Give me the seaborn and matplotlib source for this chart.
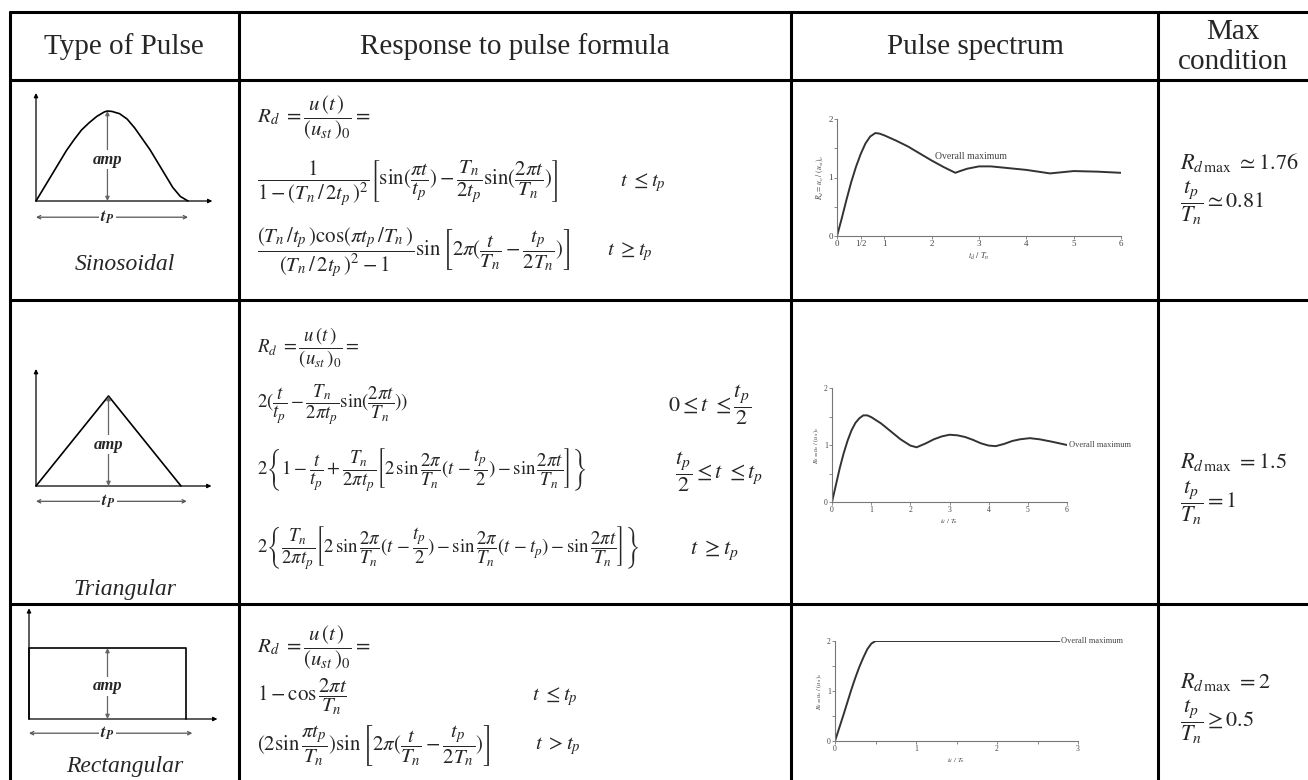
import numpy as np
import pandas as pd
import matplotlib
matplotlib.use('Agg')
import matplotlib.pyplot as plt
import seaborn as sns

sns.set_theme(style="white")
plt.rcParams['font.family'] = ['Liberation Serif', 'DejaVu Serif']
plt.rcParams['mathtext.fontset'] = 'stix'

# ------------------------------------------------------------
# data
# ------------------------------------------------------------
headers = ["Type of Pulse", "Response to pulse formula", "Pulse spectrum", "Max\ncondition"]
pulse_names = ["Sinosoidal", "Triangular", "Rectangular"]

# pulse shapes : time / t_p  vs  amplitude / amp
sine_t = [0, 0.05, 0.1, 0.15, 0.2, 0.25, 0.3, 0.35, 0.4, 0.45, 0.47, 0.5, 0.55,
          0.6, 0.65, 0.7, 0.75, 0.8, 0.85, 0.9, 0.95, 1.0]
sine_a = [0, 0.14, 0.28, 0.42, 0.56, 0.68, 0.79, 0.87, 0.94, 0.99, 1.0, 0.995, 0.97,
          0.91, 0.81, 0.69, 0.57, 0.43, 0.29, 0.15, 0.05, 0]
tri_t = [0, 0.5, 1.0]
tri_a = [0, 1.0, 0]
rect_t = [0, 0, 1.0, 1.0]
rect_a = [0, 1.0, 1.0, 0]

# pulse spectra : t_d / T_n  vs  R_d
sine_td = [0, 0.1, 0.2, 0.3, 0.4, 0.5, 0.6, 0.7, 0.81, 0.9, 1.0, 1.25, 1.5, 1.75, 2.0,
           2.25, 2.5, 2.6, 2.75, 3.0, 3.25, 3.5, 3.75, 4.0, 4.25, 4.5, 4.75, 5.0, 5.5, 6.0]
sine_rd = [0, 0.3, 0.62, 0.92, 1.18, 1.4, 1.58, 1.7, 1.76, 1.75, 1.72, 1.63, 1.53, 1.41, 1.29,
           1.18, 1.08, 1.11, 1.15, 1.19, 1.19, 1.17, 1.15, 1.13, 1.10, 1.07, 1.09, 1.11, 1.10, 1.08]
tri_td = [0, 0.1, 0.2, 0.3, 0.4, 0.5, 0.6, 0.7, 0.8, 0.9, 1.0, 1.25, 1.5, 1.75, 2.0, 2.16,
          2.4, 2.6, 2.8, 3.0, 3.2, 3.4, 3.6, 3.8, 4.0, 4.18, 4.4, 4.6, 4.8, 5.05, 5.3, 5.6, 6.0]
tri_rd = [0, 0.3, 0.6, 0.86, 1.08, 1.26, 1.39, 1.47, 1.52, 1.52, 1.49, 1.38, 1.24, 1.10, 0.99, 0.96,
          1.03, 1.10, 1.15, 1.18, 1.17, 1.14, 1.09, 1.03, 0.99, 0.98, 1.02, 1.07, 1.10, 1.12, 1.10, 1.06, 1.0]
rect_td = [0, 0.05, 0.1, 0.15, 0.2, 0.25, 0.3, 0.35, 0.4, 0.45, 0.5, 2.77]
rect_rd = [0, 0.25, 0.5, 0.76, 1.02, 1.26, 1.48, 1.67, 1.84, 1.95, 2.0, 2.0]

# formulas
rd_def = r"$R_d\ = \dfrac{u\,(t\,)}{(u_{st}\,)_0} =$"
sine_formulas = [
    rd_def,
    r"$\dfrac{1}{1-(T_n\,/\,2t_p\,)^2}\left[\sin(\dfrac{\pi t}{t_p}) - \dfrac{T_n}{2t_p}\sin(\dfrac{2\pi t}{T_n})\right]$",
    r"$\dfrac{(T_n\,/t_p\,)\cos(\pi t_p\,/T_n\,)}{(T_n\,/\,2t_p\,)^2-1}\sin\left[2\pi(\dfrac{t}{T_n}-\dfrac{t_p}{2T_n})\right]$",
]
sine_conds = [r"$t\ \leq t_p$", r"$t\ \geq t_p$"]
tri_formulas = [
    rd_def,
    r"$2(\dfrac{t}{t_p} - \dfrac{T_n}{2\pi t_p}\sin(\dfrac{2\pi t}{T_n}))$",
    r"$2\left\{1-\dfrac{t}{t_p}+\dfrac{T_n}{2\pi t_p}\left[2\,\sin\dfrac{2\pi}{T_n}(t\,-\dfrac{t_p}{2})-\sin\dfrac{2\pi t}{T_n}\right]\right\}$",
    r"$2\left\{\dfrac{T_n}{2\pi t_p}\left[2\,\sin\dfrac{2\pi}{T_n}(t\,-\dfrac{t_p}{2})-\sin\dfrac{2\pi}{T_n}(t\,-t_p)-\sin\dfrac{2\pi t}{T_n}\right]\right\}$",
]
tri_conds = [r"$0\leq t\ \leq\dfrac{t_p}{2}$", r"$\dfrac{t_p}{2}\leq t\ \leq t_p$", r"$t\ \geq t_p$"]
rect_formulas = [
    rd_def,
    r"$1-\cos\dfrac{2\pi t}{T_n}$",
    r"$(2\sin\dfrac{\pi t_p}{T_n})\sin\left[2\pi(\dfrac{t}{T_n}-\dfrac{t_p}{2T_n})\right]$",
]
rect_conds = [r"$t\ \leq t_p$", r"$t\ > t_p$"]

max_cond = [
    (r"$R_{d\,\mathrm{max}}\ \simeq 1.76$", r"$\dfrac{t_p}{T_n}\simeq 0.81$"),
    (r"$R_{d\,\mathrm{max}}\ = 1.5$", r"$\dfrac{t_p}{T_n} = 1$"),
    (r"$R_{d\,\mathrm{max}}\ = 2$", r"$\dfrac{t_p}{T_n}\geq 0.5$"),
]

# ------------------------------------------------------------
# figure / table frame (pixel coordinates)
# ------------------------------------------------------------
W, H = 1308, 780
fig = plt.figure(figsize=(W / 100, H / 100), dpi=100)
base = fig.add_axes([0, 0, 1, 1])
base.set_xlim(0, W)
base.set_ylim(H, 0)
base.axis('off')

col_x = [10, 239, 791, 1158]
row_y = [12, 80, 300, 604]
for y in row_y:
    base.plot([col_x[0] - 1, W], [y, y], color='black', lw=2.2, solid_capstyle='butt')
for x in col_x:
    base.plot([x, x], [row_y[0] - 1, H], color='black', lw=2.2, solid_capstyle='butt')

head_cx = [124, 515, 975, 1233]
for cx, txt in zip(head_cx, headers):
    base.text(cx, 47, txt, ha='center', va='center', fontsize=21,
              linespacing=1.2, multialignment='center')


def px_axes(x0, y0, x1, y1):
    """pixel box (left, top, right, bottom) -> axes"""
    return fig.add_axes([x0 / W, 1 - y1 / H, (x1 - x0) / W, (y1 - y0) / H])


# ------------------------------------------------------------
# pulse shape sketches
# ------------------------------------------------------------
def pulse(ox, oy, sx, sy, t, a, ytop, xend, tp_end, tp_y, amp_x):
    xr = (-0.06, 1.32)
    yr = (-0.4, ytop + 0.05)
    ax = px_axes(ox + xr[0] * sx, oy - yr[1] * sy, ox + xr[1] * sx, oy - yr[0] * sy)
    ax.set_xlim(*xr)
    ax.set_ylim(*yr)
    ax.axis('off')
    sns.lineplot(x=t, y=a, ax=ax, color='black', lw=1.2, sort=False, estimator=None)
    arr = dict(arrowstyle='-|>', color='black', lw=0.9, mutation_scale=6, shrinkA=0, shrinkB=0)
    ax.annotate('', xy=(0, ytop), xytext=(0, 0), arrowprops=arr)
    ax.annotate('', xy=(xend, 0), xytext=(0, 0), arrowprops=arr)
    amp_arr = dict(arrowstyle='<|-|>', color='#666666', lw=0.9, mutation_scale=6, shrinkA=0, shrinkB=0)
    ax.annotate('', xy=(amp_x, 1), xytext=(amp_x, 0), arrowprops=amp_arr)
    ax.text(amp_x, 0.46, 'amp', ha='center', va='center', fontsize=12,
            fontweight='bold', style='italic',
            bbox=dict(facecolor='white', edgecolor='none', pad=1))
    tp_arr = dict(arrowstyle='<->', color='#555555', lw=0.9, mutation_scale=6, shrinkA=0, shrinkB=0)
    ax.annotate('', xy=(0.0, tp_y), xytext=(tp_end, tp_y), arrowprops=tp_arr)
    ax.text(amp_x, tp_y, r"$\mathbfit{t}_{\mathbfit{P}}$", ha='center', va='center', fontsize=12,
            bbox=dict(facecolor='white', edgecolor='none', pad=1))
    return ax


pulse(36, 201, 152, 90, sine_t, sine_a, 1.2, 1.16, 1.0, -0.18, 0.47)
pulse(36, 486, 145, 90, tri_t, tri_a, 1.3, 1.21, 1.04, -0.17, 0.5)
pulse(29, 719, 157, 71, rect_t, rect_a, 1.56, 1.2, 1.04, -0.2, 0.5)

for y, name in zip([270, 595, 772], pulse_names):
    base.text(125, y, name, ha='center', va='baseline', fontsize=17, style='italic')

# ------------------------------------------------------------
# formulas
# ------------------------------------------------------------
fx = 257
for y, f in zip([118, 183, 252], sine_formulas):
    base.text(fx, y, f, ha='left', va='center', fontsize=15)
base.text(620, 183, sine_conds[0], ha='left', va='center', fontsize=15)
base.text(607, 252, sine_conds[1], ha='left', va='center', fontsize=15)

for y, f in zip([348, 405, 470, 548], tri_formulas):
    base.text(fx, y, f, ha='left', va='center', fontsize=13.5)
for (x, y), c in zip([(668, 405), (675, 472), (690, 550)], tri_conds):
    base.text(x, y, c, ha='left', va='center', fontsize=16)

for y, f in zip([648, 697, 746], rect_formulas):
    base.text(fx, y, f, ha='left', va='center', fontsize=15)
base.text(532, 697, rect_conds[0], ha='left', va='center', fontsize=15)
base.text(535, 746, rect_conds[1], ha='left', va='center', fontsize=15)

for (y1, y2), (l1, l2) in zip([(162, 203), (462, 503), (682, 722)], max_cond):
    base.text(1180, y1, l1, ha='left', va='center', fontsize=16)
    base.text(1180, y2, l2, ha='left', va='center', fontsize=16)


# ------------------------------------------------------------
# pulse spectra
# ------------------------------------------------------------
def spectrum(box, td, rd, xmax, xticks, xlabels, minor_x, lab_x, lab_y, lab_ha='left', fs=6):
    ax = px_axes(*box)
    sns.lineplot(x=td, y=rd, ax=ax, color='#333333', lw=1.4, sort=False, estimator=None)
    ax.set_xlim(0, xmax)
    ax.set_ylim(0, 2)
    ax.set_xticks(xticks)
    ax.set_xticklabels(xlabels)
    ax.set_xticks(minor_x, minor=True)
    ax.set_yticks([0, 1, 2])
    ax.set_yticks([0.5, 1.5], minor=True)
    for s in ['top', 'right']:
        ax.spines[s].set_visible(False)
    for s in ['left', 'bottom']:
        ax.spines[s].set_color('#777777')
        ax.spines[s].set_linewidth(0.8)
    ax.tick_params(which='both', direction='out', length=2, width=0.6, color='#777777',
                   labelsize=fs, pad=1, labelcolor='#444444')
    ax.tick_params(which='both', bottom=True, left=True)
    ax.set_xlabel(r"$t_d\ /\ T_n$", fontsize=fs - 0.5, labelpad=2, color='#444444')
    ax.set_ylabel(r"$R_d = u_o\ /\ (u_{st})_o$", fontsize=fs - 1, labelpad=2, color='#444444')
    ax.patch.set_alpha(0)
    ax.text(lab_x, lab_y, "Overall maximum", ha=lab_ha, va='center', fontsize=fs + 0.5,
            color='#444444', clip_on=False)
    return ax


spectrum((837, 119, 1121, 236), sine_td, sine_rd, 6,
         [0, 0.5, 1, 2, 3, 4, 5, 6], ['0', '1/2', '1', '2', '3', '4', '5', '6'], [],
         2.08, 1.36, fs=6.5)
spectrum((832, 388, 1067, 502), tri_td, tri_rd, 6,
         [0, 1, 2, 3, 4, 5, 6], ['0', '1', '2', '3', '4', '5', '6'], [],
         6.05, 1.0, fs=5.5)
spectrum((835, 641, 1078, 741), rect_td, rect_rd, 3,
         [0, 1, 2, 3], ['0', '1', '2', '3'], [0.5, 1.5, 2.5],
         2.79, 2.0, fs=5.5)

plt.savefig("out.png", dpi=100)
plt.close()
